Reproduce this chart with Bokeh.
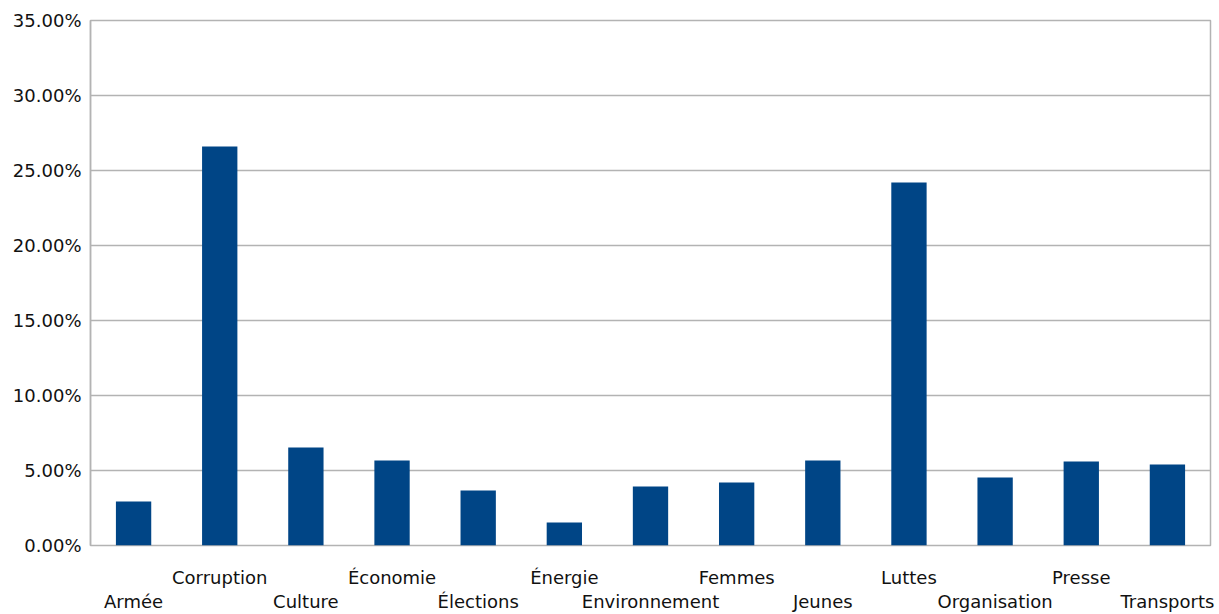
from bokeh.plotting import figure
from bokeh.models import NumeralTickFormatter, LinearAxis, FixedTicker, Range1d
from bokeh.embed import file_html
from bokeh.resources import INLINE

categories = ["Armée", "Corruption", "Culture", "Économie", "Élections", "Énergie",
              "Environnement", "Femmes", "Jeunes", "Luttes", "Organisation", "Presse", "Transports"]
values = [2.93, 26.6, 6.53, 5.67, 3.67, 1.53, 3.93, 4.2, 5.67, 24.2, 4.53, 5.6, 5.4]
fractions = [v / 100 for v in values]
y_ticks = [0, 0.05, 0.10, 0.15, 0.20, 0.25, 0.30, 0.35]
positions = list(range(len(categories)))

p = figure(x_range=Range1d(-0.5, len(categories) - 0.5), y_range=(0, 0.35),
           width=1219, height=614, output_backend="svg", toolbar_location=None,
           x_axis_location=None,
           min_border_left=90, min_border_right=9, min_border_top=20, min_border_bottom=10)

p.vbar(x=positions, top=fractions, width=0.41, color="#004586", line_color=None)

grid_col = "#b3b3b3"
p.outline_line_color = grid_col
p.outline_line_width = 1.5
p.xgrid.grid_line_color = None
p.ygrid.grid_line_color = grid_col
p.ygrid.grid_line_width = 1.5
p.ygrid.ticker = FixedTicker(ticks=y_ticks)

p.yaxis.ticker = FixedTicker(ticks=y_ticks)
p.yaxis.formatter = NumeralTickFormatter(format="0.00%")
p.yaxis.axis_line_color = grid_col
p.yaxis.axis_line_width = 1.5
p.yaxis.major_tick_line_color = None
p.yaxis.minor_tick_line_color = None
p.yaxis.major_tick_out = 0
p.yaxis.minor_tick_out = 0
p.yaxis.major_label_text_font = "DejaVu Sans"
p.yaxis.major_label_text_font_size = "18px"
p.yaxis.major_label_text_color = "#111111"
p.yaxis.major_label_standoff = 9

upper_pos = [i for i in positions if i % 2 == 1]
lower_pos = [i for i in positions if i % 2 == 0]


def make_axis(pos, standoff):
    return LinearAxis(ticker=FixedTicker(ticks=pos, minor_ticks=[]),
                      major_label_overrides={i: categories[i] for i in pos},
                      axis_line_color=None, major_tick_line_color=None,
                      minor_tick_line_color=None, major_tick_out=0, minor_tick_out=0,
                      major_label_standoff=standoff, major_label_text_font="DejaVu Sans",
                      major_label_text_font_size="18px", major_label_text_color="#111111")


p.add_layout(make_axis(upper_pos, 21), "below")
p.add_layout(make_axis(lower_pos, 0), "below")

open("out.html", "w").write(file_html(p, INLINE))
